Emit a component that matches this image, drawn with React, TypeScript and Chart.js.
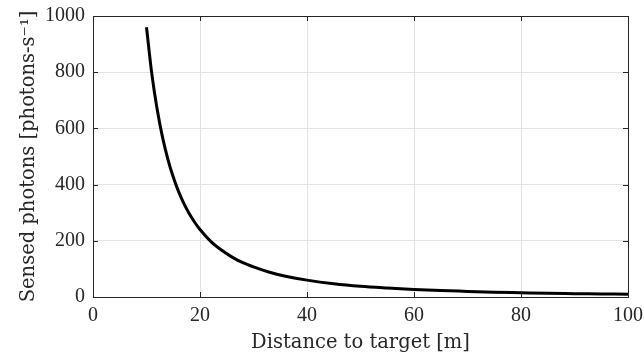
import React, { useEffect, useRef } from "react";
import { Chart, registerables } from "chart.js";

Chart.register(...registerables);

const distances = [10, 11, 12, 13, 14, 15, 16, 17, 18, 19, 20, 22, 24, 26, 28, 30, 33, 36, 40, 45, 50, 55, 60, 65, 70, 75, 80, 85, 90, 95, 100];
const photons = [960, 793, 667, 568, 490, 427, 375, 332, 296, 266, 240, 198, 167, 142, 122, 107, 88, 74, 60, 47, 38, 32, 27, 23, 20, 17, 15, 13, 12, 11, 10];
const xTicks = [0, 20, 40, 60, 80, 100];
const yTicks = [0, 200, 400, 600, 800, 1000];

const TICK_FONT = "'Liberation Serif', serif";
const TITLE_FONT = "'DejaVu Serif', serif";
const AXIS = "#262626";

const boxPlugin = {
  id: "boxTicks",
  afterDraw(chart: any) {
    const { ctx, chartArea: a, scales } = chart;
    ctx.save();
    ctx.strokeStyle = AXIS;
    ctx.lineWidth = 1;
    ctx.beginPath();
    const L = 5;
    xTicks.forEach((v) => {
      const x = Math.round(scales.x.getPixelForValue(v)) + 0.5;
      ctx.moveTo(x, a.bottom);
      ctx.lineTo(x, a.bottom - L);
      ctx.moveTo(x, a.top);
      ctx.lineTo(x, a.top + L);
    });
    yTicks.forEach((v) => {
      const y = Math.round(scales.y.getPixelForValue(v)) + 0.5;
      ctx.moveTo(a.left, y);
      ctx.lineTo(a.left + L, y);
      ctx.moveTo(a.right, y);
      ctx.lineTo(a.right - L, y);
    });
    ctx.stroke();
    ctx.strokeRect(Math.round(a.left) + 0.5, Math.round(a.top) + 0.5, Math.round(a.right - a.left), Math.round(a.bottom - a.top));
    ctx.restore();
  },
};

export default function App() {
  const ref = useRef<HTMLCanvasElement>(null);
  useEffect(() => {
    document.body.style.margin = "0";
    const chart = new Chart(ref.current!, {
      type: "line",
      data: {
        datasets: [
          {
            data: distances.map((d, i) => ({ x: d, y: photons[i] })),
            borderColor: "#000000",
            borderWidth: 3,
            pointRadius: 0,
            cubicInterpolationMode: "monotone",
            fill: false,
          },
        ],
      },
      options: {
        animation: false,
        responsive: false,
        maintainAspectRatio: false,
        layout: { padding: { top: 16, right: 16, left: 0, bottom: 0 } },
        plugins: { legend: { display: false }, tooltip: { enabled: false } },
        scales: {
          x: {
            type: "linear",
            min: 0,
            max: 100,
            afterBuildTicks: (s: any) => {
              s.ticks = xTicks.map((v) => ({ value: v }));
            },
            afterFit: (s: any) => {
              s.height = 56;
              s.paddingLeft = 0;
              s.paddingRight = 0;
            },
            grid: { color: "#e3e3e3", drawTicks: false, lineWidth: 1 },
            border: { display: false },
            ticks: { color: AXIS, font: { family: TICK_FONT, size: 20 }, padding: 7, maxRotation: 0, callback: (v: any) => String(v) },
            title: {
              display: true,
              text: "Distance to target [m]",
              color: AXIS,
              font: { family: TITLE_FONT, size: 19.5 },
              padding: { top: 0, bottom: -2 },
            },
          },
          y: {
            type: "linear",
            min: 0,
            max: 1000,
            afterBuildTicks: (s: any) => {
              s.ticks = yTicks.map((v) => ({ value: v }));
            },
            afterFit: (s: any) => {
              s.width = 93;
              s.paddingTop = 0;
              s.paddingBottom = 0;
            },
            grid: { color: "#e3e3e3", drawTicks: false, lineWidth: 1 },
            border: { display: false },
            ticks: { color: AXIS, font: { family: TICK_FONT, size: 20 }, padding: 8, callback: (v: any) => String(v) },
            title: {
              display: true,
              text: "Sensed photons [photons-s⁻¹]",
              color: AXIS,
              font: { family: TITLE_FONT, size: 19.5 },
              padding: { top: 17, bottom: 0 },
            },
          },
        },
      },
      plugins: [boxPlugin],
    } as any);
    return () => chart.destroy();
  }, []);
  return (
    <div style={{ position: "relative", width: 644, height: 353 }}>
      <canvas ref={ref} width={644} height={353} style={{ display: "block", width: 644, height: 353 }} />
    </div>
  );
}
